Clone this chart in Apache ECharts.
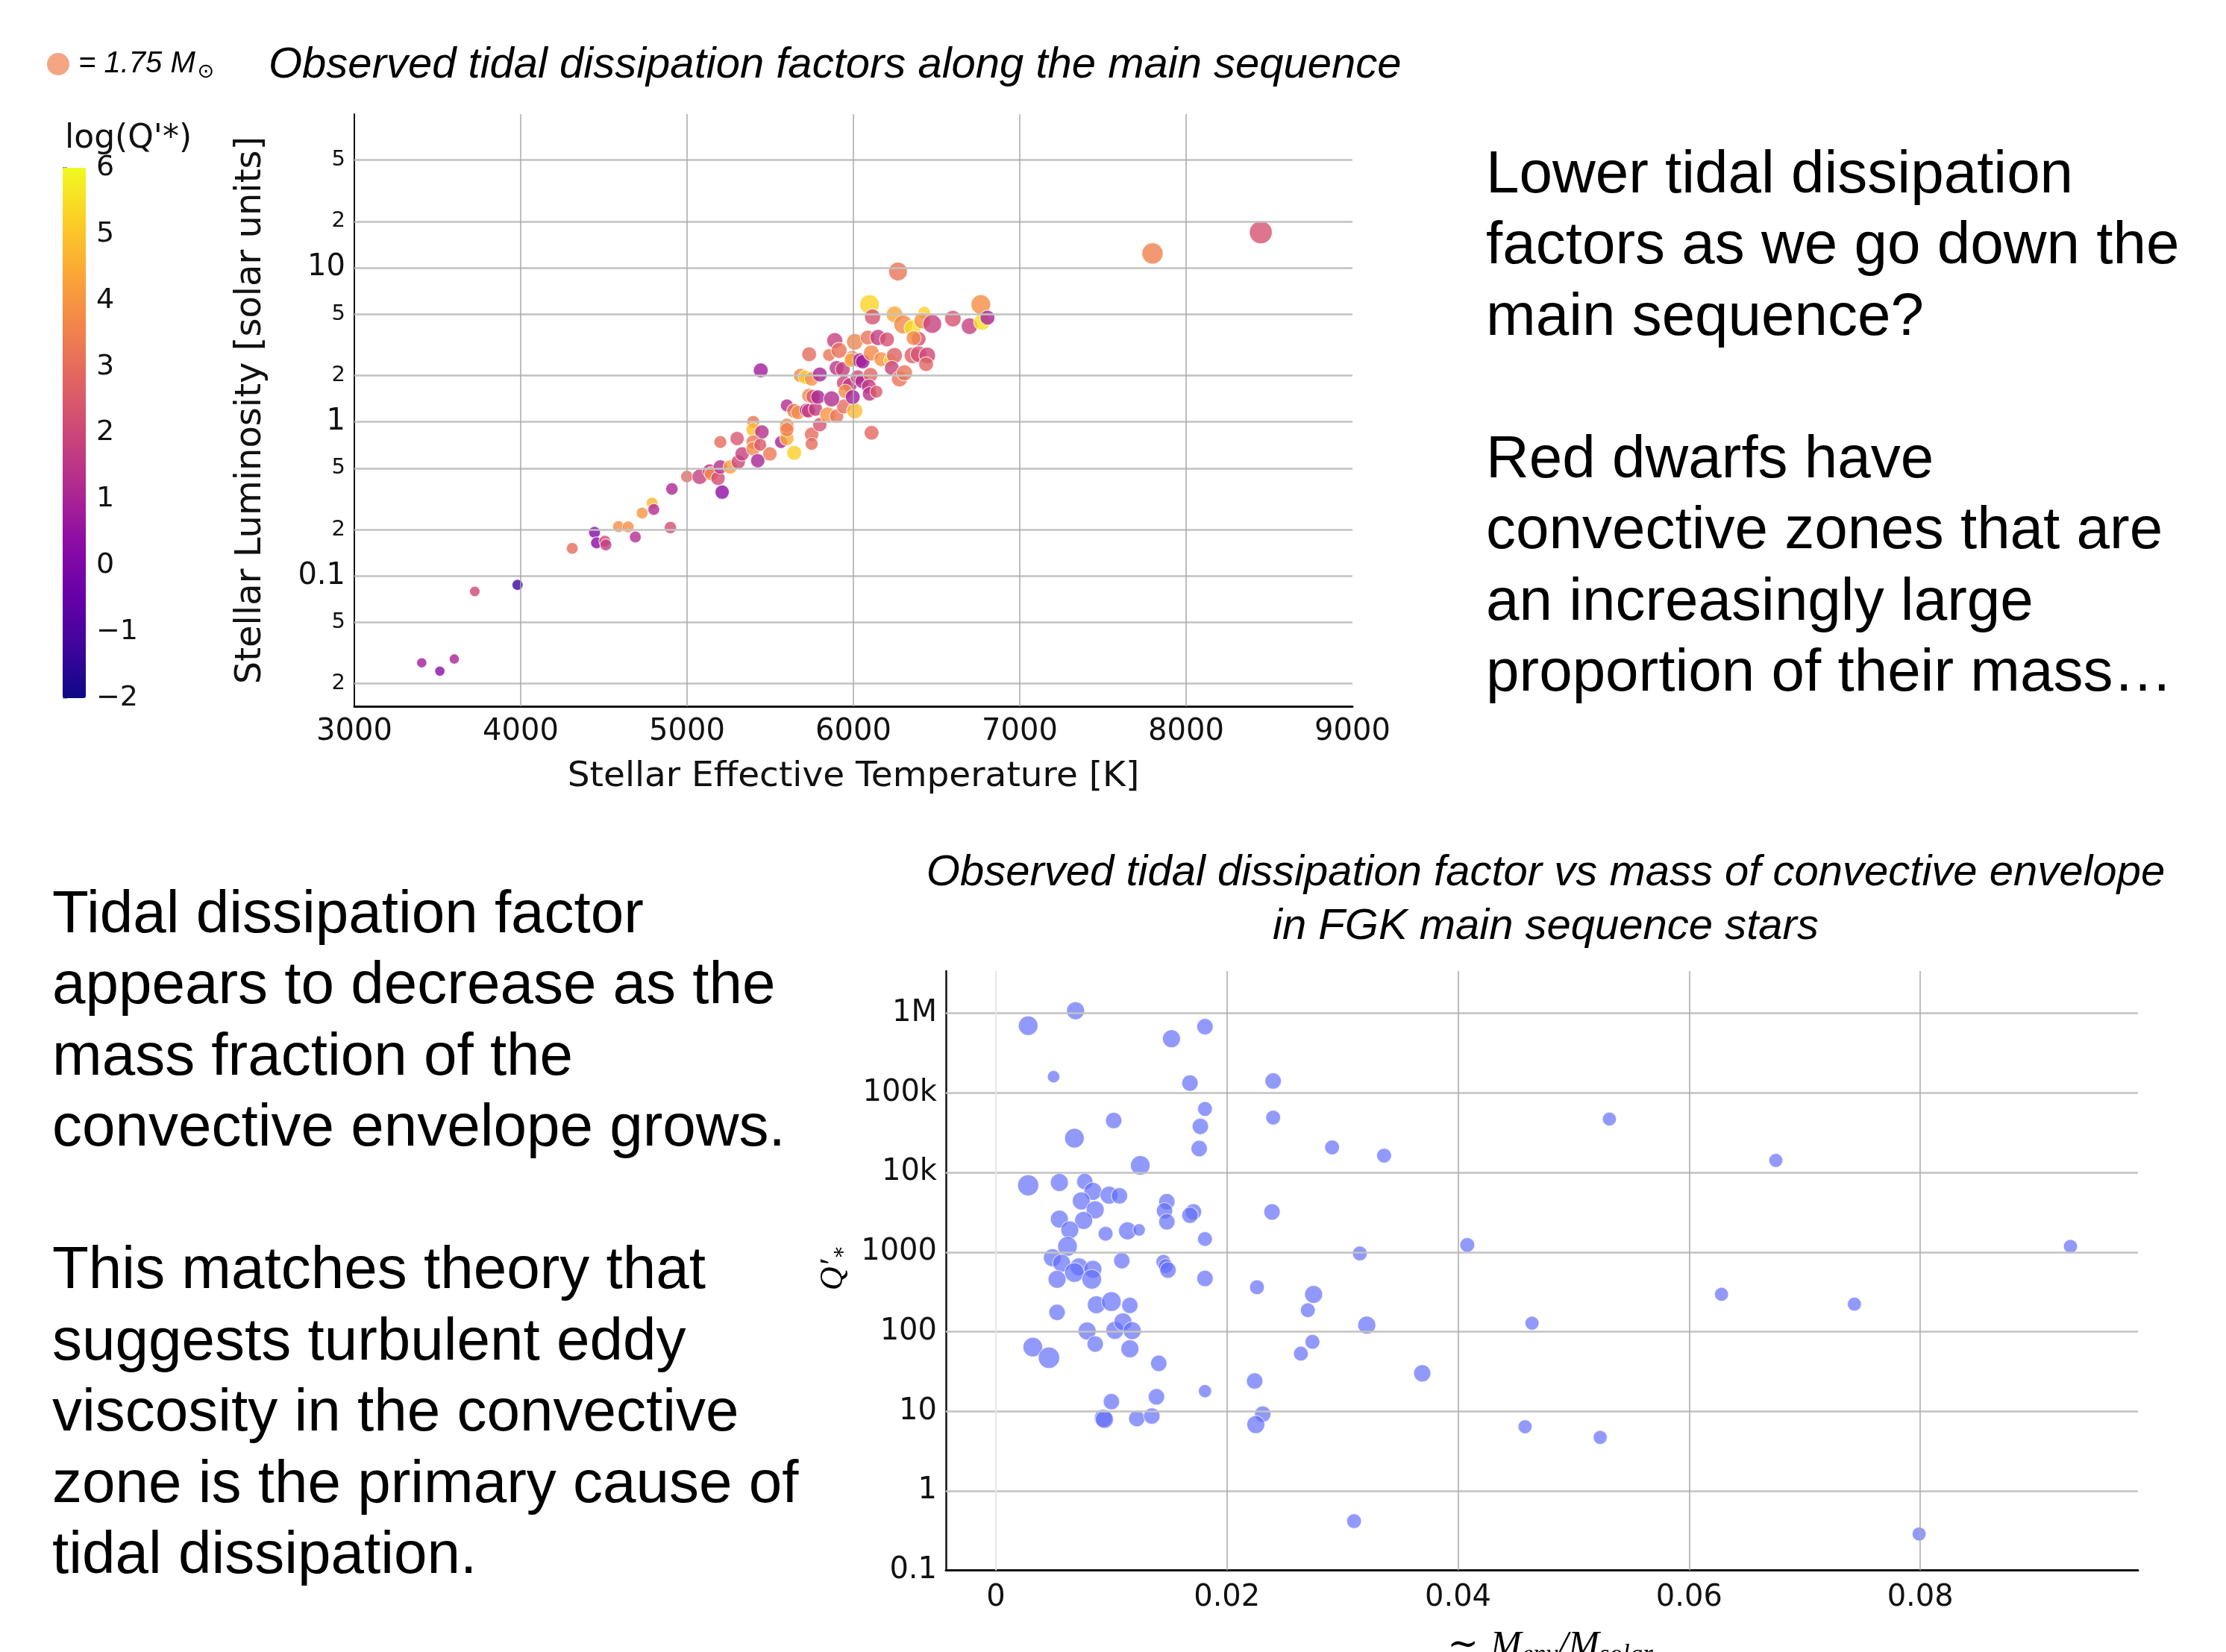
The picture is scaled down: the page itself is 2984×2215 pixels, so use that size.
<!DOCTYPE html>
<html><head><meta charset="utf-8">
<script src="https://cdn.jsdelivr.net/npm/echarts@6/dist/echarts.min.js"></script>
<style>html,body{margin:0;padding:0;background:#fff}#c{width:2984px;height:2215px}</style>
</head><body><div id="c"></div>
<script>
// ---------- Top chart: main sequence (Teff, luminosity, log Q'*, stellar mass) ----------
const teff = [3405,3514,3601,3724,3981,4310,4444,4456,4506,4512,4588,4646,4689,4730,4790,4800,4900,4909,4999,
5076,5136,5147,5186,5200,5211,5260,5308,5331,5200,5301,5398,5398,5450,5398,5398,5440,5425,5498,5443,5565,5600,5644,5600,5600,
5600,5644,5667,5719,5749,5749,5730,5772,5798,5846,5899,5943,6008,5734,5757,5787,5869,5682,5712,5749,5798,5734,5854,5888,5914,5899,
5936,5943,5978,5951,5996,6008,5993,5988,6038,6056,6026,6053,6086,6108,6103,6093,6097,6138,6148,6202,6168,6220,6247,6231,6277,6307,
6109,6097,6115,6247,6268,6299,6355,6426,6414,6474,6392,6362,6355,6392,6444,6437,6598,6698,6766,6773,6806,7798,8449];
const lum = [0.0273,0.0241,0.0289,0.0793,0.0875,0.151,0.192,0.164,0.168,0.159,0.209,0.208,0.179,0.256,0.297,0.270,0.206,0.367,0.442,
0.44,0.48,0.46,0.43,0.51,0.35,0.51,0.55,0.62,0.74,0.78,1.00,0.89,0.86,0.74,0.67,0.71,0.56,0.62,2.16,0.74,0.78,0.63,0.95,0.89,
1.28,1.18,1.15,1.19,0.83,0.72,1.18,1.21,0.96,1.11,1.09,1.26,1.18,1.48,1.46,1.45,1.41,2.00,1.95,1.90,2.03,2.75,2.72,3.37,2.91,2.24,
2.20,1.79,1.73,1.58,1.45,3.31,2.60,2.52,2.51,2.46,1.95,1.83,3.53,2.80,2.02,1.70,1.52,1.57,3.53,3.43,2.55,2.51,2.70,2.24,1.90,2.08,
0.85,5.78,4.80,4.98,9.47,4.29,4.06,5.11,4.54,4.32,3.46,3.50,2.70,2.75,2.70,2.37,4.68,4.18,5.78,4.45,4.75,12.4,17.0];
const logQ = [0.8,0.3,1.0,2.0,-1.3,3.0,0.2,0.3,2.2,1.7,3.8,3.8,1.2,4.0,4.7,1.2,2.2,1.1,3.0,
1.8,1.5,3.8,2.2,1.3,0.4,4.2,2.0,1.8,3.0,2.4,3.2,4.9,1.3,3.3,3.7,2.5,1.0,3.3,0.8,1.0,4.5,5.2,3.7,3.5,
1.2,3.2,3.8,0.5,3.0,3.0,2.0,1.7,2.3,4.0,3.2,3.0,4.8,3.7,2.5,1.0,1.2,3.7,5.2,3.8,1.0,3.0,3.2,1.8,3.1,1.5,
1.8,2.0,1.6,3.8,0.8,3.6,3.6,4.3,1.2,0.7,2.0,1.0,3.2,3.7,2.8,1.6,1.4,2.5,1.7,2.3,3.9,5.3,2.7,1.8,3.2,3.2,
2.9,5.3,2.3,4.4,3.2,3.7,5.5,5.2,3.8,1.8,2.3,3.7,2.6,2.3,2.0,2.8,2.3,1.8,3.8,5.5,1.0,3.5,2.3];
const starMass = [0.28,0.28,0.28,0.30,0.33,0.38,0.38,0.38,0.38,0.38,0.38,0.38,0.38,0.38,0.38,0.38,0.42,0.42,0.42,
0.65,0.56,0.56,0.56,0.56,0.56,0.56,0.56,0.56,0.45,0.56,0.45,0.56,0.56,0.56,0.56,0.45,0.56,0.56,0.60,0.45,0.56,0.60,0.56,0.56,
0.45,0.60,0.56,0.56,0.56,0.45,0.56,0.56,0.56,0.70,0.56,0.60,0.70,0.60,0.56,0.56,0.70,0.56,0.56,0.56,0.60,0.60,0.45,0.70,0.70,0.60,
0.60,0.60,0.60,0.56,0.60,0.75,0.60,0.56,0.60,0.56,0.60,0.56,0.60,0.70,0.60,0.60,0.56,0.45,0.70,0.60,0.60,0.45,0.70,0.60,0.70,0.70,
0.60,1.05,0.70,0.75,0.95,0.95,0.75,0.45,0.75,0.95,0.60,0.60,0.75,0.75,0.75,0.60,0.75,0.75,1.05,0.75,0.60,1.22,1.42];
const tempTicks = [3000,4000,5000,6000,7000,8000,9000];
const tempGrid = [4000,5000,6000,7000,8000];
const lumTicks = [0.02,0.05,0.1,0.2,0.5,1,2,5,10,20,50];
const lumTickLabels = ['2','5','0.1','2','5','1','2','5','10','2','5'];
const cbTicks = [-2,-1,0,1,2,3,4,5,6];
const cbTickLabels = ['\u22122','\u22121','0','1','2','3','4','5','6'];

// ---------- Bottom chart: convective envelope mass fraction vs Q'* ----------
const envFrac = [0.0028,0.0069,0.0152,0.0181,0.0050,0.0168,0.0240,0.0181,0.0240,0.0102,0.0177,0.0068,0.0176,0.0125,0.0028,0.0055,
0.0077,0.0084,0.0098,0.0107,0.0074,0.0086,0.0148,0.0146,0.0148,0.0171,0.0168,0.0239,0.0055,0.0076,0.0064,0.0095,0.0114,0.0124,
0.0181,0.0062,0.0049,0.0057,0.0072,0.0068,0.0084,0.0109,0.0145,0.0147,0.0149,0.0053,0.0083,0.0181,0.0226,0.0053,0.0087,0.0100,
0.0116,0.0079,0.0103,0.0110,0.0118,0.0086,0.0116,0.0032,0.0046,0.0141,0.0224,0.0181,0.0100,0.0139,0.0093,0.0094,0.0122,0.0135,
0.0231,0.0225,0.0264,0.0270,0.0275,0.0274,0.0291,0.0336,0.0315,0.0321,0.0369,0.0310,0.0408,0.0464,0.0458,0.0531,0.0523,0.0628,
0.0675,0.0743,0.0799,0.0930];
const qStar = [7.0e5,1.08e6,4.8e5,6.8e5,1.6e5,1.33e5,1.41e5,6.3e4,4.9e4,4.5e4,3.8e4,2.7e4,2.0e4,1.23e4,6.9e3,7.5e3,
7.7e3,5.8e3,5.2e3,5.1e3,4.4e3,3.4e3,4.3e3,3.3e3,2.4e3,3.2e3,2.9e3,3.2e3,2.6e3,2.5e3,1.9e3,1.7e3,1.85e3,1.9e3,
1.46e3,1.18e3,850,726,653,554,608,781,754,667,594,455,455,466,362,175,218,239,
214,102,104,133,103,70,61,64,47,40,24,17.9,13.2,15.2,8.2,7.9,8.1,8.7,
9.2,6.8,53,186,294,74.5,2.07e4,1.63e4,961,121,30,0.416,1.23e3,128,6.4,4.7e4,4.7,295,
1.42e4,222,0.287,1.18e3];
const envStarMass = [1.1,0.92,0.92,0.77,0.44,0.77,0.77,0.63,0.63,0.77,0.77,1.1,0.77,1.1,1.27,0.92,
0.77,0.92,0.92,0.77,0.92,0.92,0.77,0.77,0.77,0.77,0.77,0.77,0.92,0.92,0.92,0.63,0.92,0.44,
0.63,1.1,0.92,0.92,0.92,1.1,0.92,0.77,0.63,0.63,0.77,0.92,1.1,0.77,0.63,0.77,0.92,1.1,
0.77,0.92,0.92,0.92,0.92,0.77,0.92,1.1,1.3,0.77,0.77,0.5,0.77,0.77,0.92,0.92,0.77,0.77,
0.77,0.92,0.63,0.63,0.92,0.63,0.63,0.63,0.63,0.92,0.84,0.63,0.63,0.56,0.56,0.56,0.56,0.56,
0.56,0.56,0.56,0.56];
const envTicks = [0,0.02,0.04,0.06,0.08];
const envTickLabels = ['0','0.02','0.04','0.06','0.08'];
const qTicks = [0.1,1,10,100,1000,1e4,1e5,1e6];
const qTickLabels = ['0.1','1','10','100','1000','10k','100k','1M'];

// ---------- helpers / styles ----------
const AX_FONT = 'DejaVu Sans';
const SL_FONT = 'Liberation Sans';
const INK = '#111';
const plasma = ['#0d0887','#41049d','#6a00a8','#8f0da4','#b12a90','#cc4778','#e16462','#f2844b','#fca636','#fcce25','#f0f921'];
const gridH = {color:'#c2c2c2', width:2.5, type:'solid'};
const gridV = {color:'#a9a9a9', width:1.5, type:'solid'};
const zeroV = {color:'#e6e6e6', width:2, type:'solid'};
function lookup(vals, labels, v) {
  for (let i = 0; i < vals.length; i++) {
    if (Math.abs(v - vals[i]) <= Math.abs(vals[i]) * 1e-6 + 1e-12) return labels[i];
  }
  return '';
}
function isDecade(v) { const l = Math.log10(v); return Math.abs(l - Math.round(l)) < 1e-6; }

const chart = echarts.init(document.getElementById('c'), null, {renderer: 'canvas', width: 2984, height: 2215});

const option = {
  backgroundColor: '#fff',
  animation: false,
  grid: [
    {left: 475, top: 153, width: 1338, height: 794},
    {left: 1268, top: 1302, width: 1598, height: 803.6},
    {left: 84, top: 225, width: 31, height: 711}
  ],
  xAxis: [
    {gridIndex: 0, type: 'value', min: 3000, max: 9000, interval: 1000,
     axisLine: {show: true, onZero: false, lineStyle: {color: INK, width: 3}},
     axisTick: {show: false}, splitLine: {show: false},
     axisLabel: {customValues: tempTicks, fontSize: 40, fontFamily: AX_FONT, color: INK, margin: 15,
       formatter: v => lookup(tempTicks, tempTicks.map(String), v)}},
    {gridIndex: 1, type: 'value', min: -0.00432, max: 0.09884,
     axisLine: {show: true, onZero: false, lineStyle: {color: INK, width: 3}},
     axisTick: {show: false}, splitLine: {show: false},
     axisLabel: {customValues: envTicks, fontSize: 40, fontFamily: AX_FONT, color: INK, margin: 17,
       formatter: v => lookup(envTicks, envTickLabels, v)}},
    {gridIndex: 2, type: 'value', show: false, min: 0, max: 1}
  ],
  yAxis: [
    {gridIndex: 0, type: 'log', logBase: 10, min: 0.01425, max: 99.5,
     axisLine: {show: true, onZero: false, lineStyle: {color: INK, width: 2}},
     axisTick: {show: false}, splitLine: {show: false},
     axisLabel: {customValues: lumTicks, margin: 12,
       formatter: v => { const t = lookup(lumTicks, lumTickLabels, v); if (!t) return ''; return isDecade(v) ? '{big|' + t + '}' : '{small|' + t + '}'; },
       rich: {big: {fontSize: 40, fontFamily: AX_FONT, color: INK}, small: {fontSize: 29, fontFamily: AX_FONT, color: INK}}}},
    {gridIndex: 1, type: 'log', logBase: 10, min: 0.1, max: 3.4e6,
     axisLine: {show: true, onZero: false, lineStyle: {color: INK, width: 2.5}},
     axisTick: {show: false}, splitLine: {show: false},
     axisLabel: {customValues: qTicks, margin: 12, fontSize: 40, fontFamily: AX_FONT, color: INK,
       formatter: v => lookup(qTicks, qTickLabels, v)}},
    {gridIndex: 2, type: 'value', min: -2, max: 6, interval: 1, position: 'right',
     axisLine: {show: false}, splitLine: {show: false},
     axisTick: {show: true, length: 6, lineStyle: {color: '#999', width: 2}},
     axisLabel: {fontSize: 38, fontFamily: AX_FONT, color: INK, margin: 14,
       formatter: v => lookup(cbTicks, cbTickLabels, v)}}
  ],
  visualMap: [{
    type: 'continuous', seriesIndex: 0, dimension: 2, min: -2, max: 6,
    left: 84, top: 225, itemWidth: 31, itemHeight: 711, padding: 0,
    calculable: false, inRange: {color: plasma}
  }],
  series: [
    {type: 'scatter', xAxisIndex: 0, yAxisIndex: 0, z: 3,
     data: teff.map((t, i) => [t, lum[i], logQ[i], starMass[i]]),
     symbolSize: d => 34 * Math.sqrt(d[3] / 1.75),
     itemStyle: {opacity: 0.8, borderColor: 'rgba(255,255,255,0.9)', borderWidth: 1.2},
     emphasis: {disabled: true}},
    {type: 'scatter', xAxisIndex: 0, yAxisIndex: 0, z: 1, data: [], silent: true,
     markLine: {silent: true, symbol: ['none', 'none'], label: {show: false}, animation: false,
       data: lumTicks.map(v => ({yAxis: v, lineStyle: gridH})).concat(tempGrid.map(v => ({xAxis: v, lineStyle: gridV})))}},
    {type: 'scatter', xAxisIndex: 1, yAxisIndex: 1, z: 3,
     data: envFrac.map((v, i) => [v, qStar[i], envStarMass[i]]),
     symbolSize: d => 25 * Math.sqrt(d[2]),
     itemStyle: {color: '#636efa', opacity: 0.7, borderColor: 'rgba(255,255,255,0.9)', borderWidth: 1.2},
     emphasis: {disabled: true}},
    {type: 'scatter', xAxisIndex: 1, yAxisIndex: 1, z: 1, data: [], silent: true,
     markLine: {silent: true, symbol: ['none', 'none'], label: {show: false}, animation: false,
       data: qTicks.slice(1).map(v => ({yAxis: v, lineStyle: gridH}))
         .concat(envTicks.map(v => ({xAxis: v, lineStyle: v === 0 ? zeroV : gridV})))}}
  ],
  graphic: {elements: [
    {type: 'circle', shape: {cx: 78, cy: 86, r: 15}, style: {fill: '#f4a582'}},
    {type: 'text', x: 105, y: 86, style: {text: '{a|= 1.75 M}{b|\u2299}', verticalAlign: 'middle', align: 'left',
      rich: {a: {fontSize: 40, fontStyle: 'italic', fontFamily: SL_FONT, fill: '#000'},
             b: {fontSize: 27, fontFamily: 'DejaVu Sans', fill: '#000', padding: [22, 0, 0, 3]}}}},
    {type: 'text', x: 360, y: 88, style: {text: 'Observed tidal dissipation factors along the main sequence',
      fontSize: 58, fontStyle: 'italic', fontFamily: SL_FONT, fill: '#000', align: 'left', verticalAlign: 'middle'}},
    {type: 'text', x: 87, y: 187, style: {text: "log(Q'*)", fontSize: 44, fontFamily: AX_FONT, fill: INK, align: 'left', verticalAlign: 'middle'}},
    {type: 'text', x: 337, y: 550, rotation: Math.PI / 2, style: {text: 'Stellar Luminosity [solar units]',
      fontSize: 48, fontFamily: AX_FONT, fill: INK, align: 'center', verticalAlign: 'middle'}},
    {type: 'text', x: 1144, y: 1042, style: {text: 'Stellar Effective Temperature [K]',
      fontSize: 47, fontFamily: AX_FONT, fill: INK, align: 'center', verticalAlign: 'middle'}},
    {type: 'text', x: 1992, y: 188, style: {text: 'Lower tidal dissipation\nfactors as we go down the\nmain sequence?\n\nRed dwarfs have\nconvective zones that are\nan increasingly large\nproportion of their mass\u2026',
      fontSize: 80, lineHeight: 95.5, fontFamily: SL_FONT, fill: '#000', align: 'left', verticalAlign: 'top'}},
    {type: 'text', x: 70, y: 1180, style: {text: 'Tidal dissipation factor\nappears to decrease as the\nmass fraction of the\nconvective envelope grows.\n\nThis matches theory that\nsuggests turbulent eddy\nviscosity in the convective\nzone is the primary cause of\ntidal dissipation.',
      fontSize: 80, lineHeight: 95.5, fontFamily: SL_FONT, fill: '#000', align: 'left', verticalAlign: 'top'}},
    {type: 'text', x: 2072, y: 1135, style: {text: 'Observed tidal dissipation factor vs mass of convective envelope\nin FGK main sequence stars',
      fontSize: 58, lineHeight: 72, fontStyle: 'italic', fontFamily: SL_FONT, fill: '#000', align: 'center', verticalAlign: 'top'}},
    {type: 'text', x: 1117, y: 1700, rotation: Math.PI / 2, style: {text: '{q|Q\u2032}{s|\u2217}', align: 'center', verticalAlign: 'middle',
      rich: {q: {fontSize: 44, fontStyle: 'italic', fontFamily: 'Liberation Serif', fill: '#000'},
             s: {fontSize: 28, fontFamily: 'DejaVu Serif', fill: '#000', padding: [18, 0, 0, 0]}}}},
    {type: 'text', x: 2078, y: 2178, style: {text: '{t|\u223c }{m|M}{s|env}{m|/M}{s|solar}', align: 'center', verticalAlign: 'top',
      rich: {t: {fontSize: 50, fontFamily: 'DejaVu Serif', fill: '#000'},
             m: {fontSize: 50, fontStyle: 'italic', fontFamily: 'Liberation Serif', fill: '#000'},
             s: {fontSize: 35, fontStyle: 'italic', fontFamily: 'Liberation Serif', fill: '#000', padding: [24, 0, 0, 0]}}}}
  ]}
};
chart.setOption(option);
</script>
</body></html>
